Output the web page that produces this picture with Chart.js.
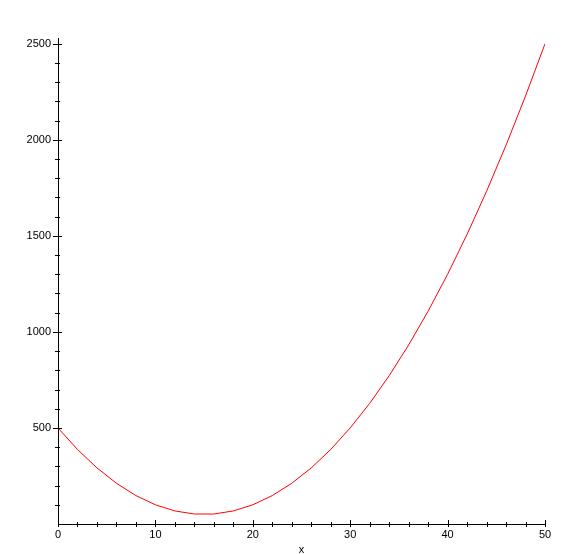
<!DOCTYPE html>
<html>
<head>
<meta charset="utf-8">
<script src="https://cdn.jsdelivr.net/npm/chart.js@4"></script>
<style>
  html, body { margin: 0; padding: 0; background: #fff; }
  #wrap { width: 587px; height: 554px; }
</style>
</head>
<body>
<div id="wrap"><canvas id="myChart"></canvas></div>
<script>
'use strict';

//***************** Data *****************
let xValues = [0, 2, 4, 6, 8, 10, 12, 14, 16, 18, 20, 22, 24, 26, 28, 30, 32, 34, 36, 38, 40, 42, 44, 46, 48, 50];
let yValues = [500, 388, 292, 212, 148, 100, 68, 52, 52, 68, 100, 148, 212, 292, 388, 500, 628, 772, 932, 1108, 1300, 1508, 1732, 1972, 2228, 2500];
let xLabels = [0, 10, 20, 30, 40, 50];
let yLabels = [500, 1000, 1500, 2000, 2500];

let points = [];
for (let i = 0; i < xValues.length; i++) {
  points.push({ x: xValues[i], y: yValues[i] });
}

// minor tick positions (every 100 on y)
let yTickList = [];
for (let v = 0; v <= 2500; v += 100) {
  yTickList.push({ value: v });
}

// draws tick marks that cross the axis lines, like the original plot
let crossTicks = {
  id: 'crossTicks',
  afterDraw(chart) {
    let c = chart.ctx;
    let xs = chart.scales.x;
    let ys = chart.scales.y;
    let axisX = xs.getPixelForValue(0);
    let axisY = ys.getPixelForValue(0);
    c.save();
    c.strokeStyle = '#000';
    c.lineWidth = 1;
    c.beginPath();
    xs.ticks.forEach(t => {
      let px = Math.round(xs.getPixelForValue(t.value)) + 0.5;
      let big = xLabels.includes(t.value);
      c.moveTo(px, axisY - (big ? 4 : 2));
      c.lineTo(px, axisY + 3);
    });
    ys.ticks.forEach(t => {
      if (t.value === 0) return;
      let py = Math.round(ys.getPixelForValue(t.value)) + 0.5;
      let big = yLabels.includes(t.value);
      c.moveTo(axisX - (big ? 5 : 3), py);
      c.lineTo(axisX + (big ? 4 : 2), py);
    });
    c.stroke();
    c.restore();
  }
};

let ctx = document.getElementById('myChart');

new Chart(ctx, {
  type: 'line',
  data: {
    datasets: [{
      data: points,
      borderColor: '#ff0000',
      borderWidth: 1,
      pointRadius: 0,
      tension: 0,
      fill: false
    }]
  },
  options: {
    responsive: true,
    maintainAspectRatio: false,
    animation: false,
    layout: { padding: { top: 38, right: 42, left: 0, bottom: 0 } },
    plugins: { legend: { display: false }, tooltip: { enabled: false } },
    scales: {
      x: {
        type: 'linear',
        min: 0,
        max: 50,
        afterFit(scale) { scale.height = 30; },
        grid: { display: false, drawTicks: false },
        border: { display: true, color: '#000', width: 1 },
        ticks: {
          stepSize: 2,
          autoSkip: false,
          maxRotation: 0,
          padding: 4,
          color: '#000',
          font: { family: 'Liberation Sans, Arial', size: 11 },
          callback: v => (xLabels.includes(v) ? String(v) : '')
        },
        title: {
          display: true,
          text: 'x',
          color: '#000',
          font: { family: 'Liberation Sans, Arial', size: 11 },
          padding: { top: 0, bottom: -3 }
        }
      },
      y: {
        type: 'linear',
        min: 0,
        max: 2530,
        afterFit(scale) { scale.width = 58; },
        afterBuildTicks(scale) { scale.ticks = yTickList.map(t => ({ value: t.value })); },
        grid: { display: false, drawTicks: false },
        border: { display: true, color: '#000', width: 1 },
        ticks: {
          autoSkip: false,
          padding: 7,
          color: '#000',
          font: { family: 'Liberation Sans, Arial', size: 11 },
          callback: v => (yLabels.includes(v) ? String(v) : '')
        }
      }
    }
  },
  plugins: [crossTicks]
});
</script>
</body>
</html>
